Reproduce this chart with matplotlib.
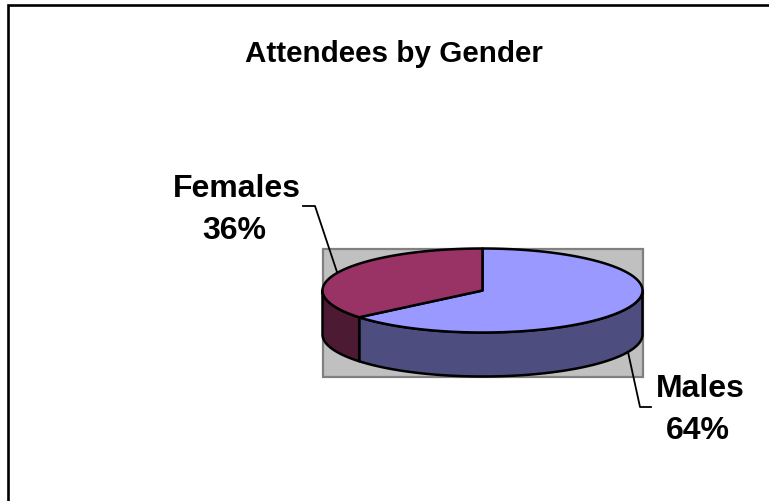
import numpy as np
import matplotlib
matplotlib.use("Agg")
import matplotlib.pyplot as plt

title = "Attendees by Gender"
categories = ["Males", "Females"]
shares = [64, 36]
top_colors = ["#9999FF", "#993366"]
side_colors = ["#4D4D80", "#4D1A33"]

plt.rcParams["font.family"] = ["Liberation Sans", "DejaVu Sans"]

W, H = 769, 502
fig = plt.figure(figsize=(W / 100, H / 100), dpi=100, facecolor="white")
ax = fig.add_axes([0, 0, 1, 1])
ax.set_xlim(0, W)
ax.set_ylim(H, 0)
ax.axis("off")

# frame (only top and left are within the crop)
ax.plot([8, 8, W], [H, 5.5, 5.5], color="black", lw=1.9, solid_joinstyle="miter", zorder=1)

# pie geometry in pixels
cx, cy, rx, ry, depth = 482.5, 291.5, 160, 42, 44

ax.fill([cx - rx, cx + rx, cx + rx, cx - rx], [cy - ry, cy - ry, cy + ry + depth, cy + ry + depth],
        facecolor="#C0C0C0", edgecolor="#808080", lw=1.6, zorder=2)


def pt(t):
    t = np.radians(t)
    return cx + rx * np.sin(t), cy - ry * np.cos(t)


bounds = np.cumsum([0] + shares) / sum(shares) * 360

for i in range(len(shares)):
    a0, a1 = bounds[i], bounds[i + 1]
    # side wall: the portion in the front half of the pie
    s0, s1 = max(a0, 90), min(a1, 270)
    if s1 > s0:
        t = np.linspace(s0, s1, 200)
        x, y = pt(t)
        ax.fill(np.r_[x, x[::-1]], np.r_[y, y[::-1] + depth], facecolor=side_colors[i],
                edgecolor="black", lw=1.8, joinstyle="round", zorder=3)

for i in range(len(shares)):
    a0, a1 = bounds[i], bounds[i + 1]
    t = np.linspace(a0, a1, 300)
    x, y = pt(t)
    ax.fill(np.r_[cx, x], np.r_[cy, y], facecolor=top_colors[i],
            edgecolor="black", lw=1.8, joinstyle="round", zorder=4)

# leader lines
ax.plot([651, 640, 628], [408, 408, 353], color="black", lw=1.3, zorder=5)
ax.plot([303, 315, 337], [207, 207, 273], color="black", lw=1.3, zorder=5)

# texts
ax.text(394, 62, title, fontsize=21.3, fontweight="bold", ha="center", va="baseline", color="black")
label_pos = {0: (700, 698, 397, 439), 1: (236.5, 234.5, 197, 239)}
for i, name in enumerate(categories):
    x1, x2, y1, y2 = label_pos[i]
    ax.text(x1, y1, name, fontsize=23, fontweight="bold", ha="center", va="baseline", color="black")
    ax.text(x2, y2, f"{shares[i]}%", fontsize=23, fontweight="bold", ha="center", va="baseline", color="black")

fig.savefig("out.png", dpi=100, facecolor="white")
